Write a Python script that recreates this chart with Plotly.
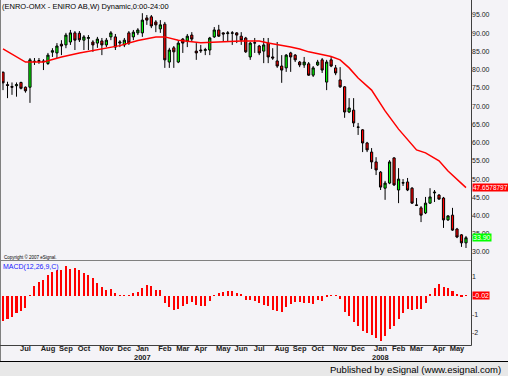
import plotly.graph_objects as go
import pandas as pd

# ---------------- data ----------------
start_week = "2006-05-29"
n_weeks = 104
dates = pd.date_range(start_week, periods=n_weeks, freq="7D")

opens = [79.3, 75.9, 75.4, 75.6, 76.5, 75.2, 75.2, 82.2, 82.5, 82.4,
         81.7, 84.8, 84.6, 87.0, 86.8, 87.6, 90.1, 90.0, 88.1, 88.6,
         87.6, 87.3, 87.9, 86.8, 89.0, 89.0, 87.3, 86.8, 90.1, 89.0,
         90.1, 90.1, 94.2, 94.5, 93.1, 91.2, 92.5, 82.1, 86.0, 82.1,
         88.4, 87.9, 89.5, 85.1, 85.4, 85.3, 85.4, 89.0, 90.9, 90.1,
         89.9, 90.0, 90.1, 89.2, 88.7, 83.5, 87.3, 86.5, 85.1, 87.3,
         83.5, 82.4, 81.0, 80.5, 84.6, 84.0, 82.1, 81.3, 81.6, 78.5,
         81.3, 82.7, 76.6, 82.7, 80.5, 77.2, 75.3, 68.4, 68.9, 64.3,
         63.5, 59.9, 57.4, 54.7, 51.9, 47.5, 48.9, 55.8, 47.0, 48.9,
         49.2, 47.5, 42.9, 42.1, 40.7, 43.4, 46.2, 45.6, 44.8, 38.8,
         40.1, 36.3, 34.7, 32.5]
highs = [79.5, 76.7, 76.5, 76.5, 76.7, 75.4, 83.2, 83.2, 83.2, 82.9,
         84.6, 85.9, 87.3, 88.1, 90.1, 90.9, 90.6, 90.6, 89.5, 89.5,
         88.1, 89.0, 88.7, 88.7, 90.6, 89.8, 88.1, 88.7, 90.6, 90.9,
         91.4, 95.5, 95.0, 95.0, 93.6, 93.6, 93.1, 86.0, 86.5, 88.1,
         88.7, 89.8, 90.3, 87.3, 86.8, 86.0, 89.0, 91.7, 92.3, 90.3,
         90.6, 90.6, 90.3, 90.3, 89.0, 87.6, 88.7, 86.8, 88.7, 88.7,
         85.9, 87.6, 84.0, 84.3, 84.9, 84.3, 82.4, 83.5, 82.1, 81.0,
         82.7, 83.2, 82.7, 83.5, 81.3, 80.7, 75.5, 72.2, 72.2, 65.4,
         63.7, 60.2, 58.5, 56.0, 52.2, 49.5, 55.2, 56.0, 53.0, 50.0,
         50.3, 47.8, 44.8, 42.6, 45.1, 47.5, 47.0, 45.9, 45.1, 40.1,
         42.1, 36.6, 34.9, 34.4]
lows = [74.4, 72.2, 73.1, 72.6, 74.6, 73.7, 70.9, 81.3, 81.6, 79.9,
        81.3, 83.5, 83.2, 84.0, 85.9, 86.8, 85.4, 87.6, 85.4, 85.4,
        84.9, 86.0, 84.0, 86.2, 88.1, 85.4, 86.2, 86.2, 86.8, 88.1,
        89.5, 89.0, 92.3, 91.4, 90.3, 90.1, 80.5, 80.5, 80.5, 81.8,
        84.6, 86.2, 87.6, 82.7, 84.6, 84.0, 84.0, 88.7, 89.0, 87.6,
        87.6, 86.8, 87.3, 86.8, 84.6, 82.7, 84.6, 84.0, 81.8, 81.8,
        82.7, 80.5, 76.4, 79.4, 79.4, 82.1, 80.7, 80.5, 78.3, 78.0,
        81.0, 79.1, 74.4, 80.7, 78.5, 75.0, 66.8, 68.1, 64.3, 62.1,
        57.4, 57.4, 52.8, 51.1, 47.0, 44.3, 48.6, 48.1, 43.4, 48.1,
        46.7, 43.2, 42.6, 38.2, 40.4, 43.2, 43.7, 44.3, 36.6, 38.5,
        35.8, 33.8, 31.4, 31.1]
closes = [76.4, 75.7, 75.2, 75.9, 74.9, 74.2, 82.7, 82.3, 82.3, 82.2,
          84.0, 85.2, 86.5, 86.5, 89.5, 90.1, 88.1, 88.2, 89.0, 88.8,
          86.8, 88.4, 86.8, 88.1, 90.1, 86.2, 87.6, 88.1, 87.3, 90.3,
          90.9, 93.6, 93.6, 92.0, 92.3, 92.3, 82.7, 85.4, 84.9, 87.3,
          87.3, 89.2, 88.4, 84.6, 85.2, 85.5, 88.7, 90.9, 89.2, 89.8,
          90.1, 90.1, 89.5, 88.1, 84.9, 87.3, 87.4, 84.6, 86.8, 83.5,
          83.2, 81.0, 79.9, 84.0, 83.5, 82.7, 81.3, 82.1, 78.5, 80.5,
          82.1, 79.9, 82.1, 81.0, 79.1, 75.3, 68.4, 69.5, 65.4, 64.2,
          59.9, 58.0, 54.7, 52.5, 47.8, 48.9, 54.7, 48.4, 50.0, 49.0,
          47.0, 43.4, 42.8, 40.1, 43.4, 45.1, 46.4, 44.5, 38.8, 39.9,
          36.0, 34.1, 32.5, 33.90]

# moving average line, read at selected weeks
sma_weeks = [0, 5, 9, 13, 17, 22, 26, 30, 34, 36, 39, 44, 48, 53, 57, 59,
             64, 66, 68, 71, 73, 75, 77, 79, 82, 85, 88, 92, 94, 97, 99, 103]
sma_values = [85.7, 82.1, 82.1, 83.5, 84.6, 85.7, 86.6, 88.0, 89.0, 89.0,
              88.1, 87.4, 87.7, 87.9, 87.9, 87.3, 86.2, 85.7, 84.9, 84.0,
              83.6, 82.7, 80.5, 77.7, 74.4, 68.7, 63.7, 58.0, 57.2, 55.0,
              52.2, 47.6578797]

macd_hist = [-1.35, -1.26, -1.17, -0.95, -0.81, -0.68, -0.02, 0.49, 0.72, 0.86,
             1.08, 1.26, 1.39, 1.39, 1.57, 1.42, 1.50, 1.35, 1.23, 1.10,
             0.94, 0.68, 0.45, 0.32, 0.34, 0.13, 0.01, 0.02, -0.01, 0.13,
             0.18, 0.41, 0.59, 0.49, 0.31, 0.27, -0.41, -0.63, -0.77, -0.72,
             -0.54, -0.45, -0.36, -0.49, -0.59, -0.58, -0.32, 0.02, 0.13, 0.18,
             0.22, 0.22, 0.15, 0.05, -0.23, -0.23, -0.27, -0.41, -0.50, -0.59,
             -0.76, -0.81, -0.86, -0.63, -0.45, -0.36, -0.36, -0.41, -0.41, -0.45,
             -0.23, -0.31, -0.09, -0.02, -0.02, -0.18, -0.90, -1.08, -1.44, -1.62,
             -1.89, -2.04, -2.13, -2.31, -2.43, -2.16, -1.80, -1.62, -1.26, -0.95,
             -0.72, -0.77, -0.72, -0.72, -0.41, 0.09, 0.41, 0.63, 0.45, 0.41,
             0.23, 0.09, -0.05, -0.02]

month_tick_dates = ["2006-07-03", "2006-08-07", "2006-09-04", "2006-10-02", "2006-11-06",
                    "2006-12-04", "2007-01-01", "2007-02-05", "2007-03-05", "2007-04-02",
                    "2007-05-07", "2007-06-04", "2007-07-02", "2007-08-06", "2007-09-03",
                    "2007-10-01", "2007-11-05", "2007-12-03", "2008-01-07", "2008-02-04",
                    "2008-03-03", "2008-04-07", "2008-05-05"]
month_tick_labels = ["Jul", "Aug", "Sep", "Oct", "Nov", "Dec", "Jan", "Feb", "Mar", "Apr",
                     "May", "Jun", "Jul", "Aug", "Sep", "Oct", "Nov", "Dec", "Jan", "Feb",
                     "Mar", "Apr", "May"]
year_tick_dates = ["2007-01-01", "2008-01-07"]
year_tick_labels = ["2007", "2008"]

price_ticks = [30, 35, 40, 45, 50, 55, 60, 65, 70, 75, 80, 85, 90, 95]
macd_ticks = [1, -1, -2]

# ---------------- layout helpers ----------------
W, H = 508, 376
L, R, T, B = 2, 471, 2, 345


def px(xp):
    return (xp - L) / (R - L)


def py(yp):
    return (B - yp) / (B - T)


BG = "#F4F3F7"
FONT = "Liberation Sans"
week_ms = 7 * 86400000
px_per_week = 4.495
t0 = dates[0]
x_start = t0 + pd.Timedelta(days=7 * (L - 3) / px_per_week)
x_end = t0 + pd.Timedelta(days=7 * (R - 3) / px_per_week)

fig = go.Figure()
fig.add_trace(go.Candlestick(
    x=dates, open=opens, high=highs, low=lows, close=closes,
    increasing=dict(fillcolor="#00FF00", line=dict(color="#000000", width=1)),
    decreasing=dict(fillcolor="#FF0000", line=dict(color="#000000", width=1)),
    whiskerwidth=0, xaxis="x", yaxis="y", showlegend=False, hoverinfo="skip"))
fig.add_trace(go.Scatter(
    x=[dates[i] for i in sma_weeks], y=sma_values, mode="lines",
    line=dict(color="#FF0000", width=1.5), xaxis="x", yaxis="y",
    showlegend=False, hoverinfo="skip"))
fig.add_trace(go.Bar(
    x=dates, y=macd_hist, width=week_ms * 0.45,
    marker=dict(color="#FF0000", line=dict(width=0)),
    xaxis="x", yaxis="y2", showlegend=False, hoverinfo="skip"))

fig.update_layout(
    width=W, height=H,
    margin=dict(l=L, r=W - R, t=T, b=H - B, pad=0, autoexpand=False),
    paper_bgcolor=BG, plot_bgcolor=BG,
    font=dict(family=FONT, size=7, color="#000000"),
    bargap=0,
    xaxis=dict(type="date", range=[x_start, x_end], anchor="free", position=py(342.5),
               domain=[0, 1],
               tickvals=month_tick_dates, ticktext=month_tick_labels,
               tickfont=dict(family=FONT, size=7.5, color="#222222", weight="bold"),
               showgrid=False, zeroline=False, showline=False, ticks="",
               rangeslider=dict(visible=False), automargin=False),
    yaxis=dict(domain=[py(260), 1], range=[27.8, 98.57], side="right", anchor="x",
               tickvals=price_ticks, ticktext=[f"{v:.2f}" for v in price_ticks],
               tickfont=dict(family=FONT, size=7, color="#222222"),
               showgrid=False, zeroline=False, showline=False, ticks="", automargin=False),
    yaxis2=dict(domain=[0, py(261)], range=[-2.66, 1.855], side="right", anchor="x",
                tickvals=macd_ticks, ticktext=[str(v) for v in macd_ticks],
                tickfont=dict(family=FONT, size=7, color="#222222"),
                showgrid=False, zeroline=False, showline=False, ticks="", automargin=False),
)

shapes = []
# footer band
shapes.append(dict(type="rect", xref="paper", yref="paper", x0=px(0), x1=px(W),
                   y0=py(362), y1=py(H), fillcolor="#E8E8E8", line=dict(width=0)))
shapes.append(dict(type="line", xref="paper", yref="paper", x0=px(0), x1=px(W),
                   y0=py(361.5), y1=py(361.5), line=dict(color="#000000", width=1)))
# frame lines
shapes.append(dict(type="line", xref="paper", yref="paper", x0=px(0.5), x1=px(0.5),
                   y0=py(0), y1=py(361), line=dict(color="#808080", width=1)))
shapes.append(dict(type="line", xref="paper", yref="paper", x0=px(0), x1=px(471.5),
                   y0=py(260.5), y1=py(260.5), line=dict(color="#808080", width=1)))
shapes.append(dict(type="line", xref="paper", yref="paper", x0=px(0), x1=px(471.5),
                   y0=py(345.5), y1=py(345.5), line=dict(color="#404040", width=1)))
shapes.append(dict(type="line", xref="paper", yref="paper", x0=px(471.5), x1=px(471.5),
                   y0=py(0), y1=py(345.5), line=dict(color="#404040", width=1)))
fig.update_layout(shapes=shapes)

ann = []
ann.append(dict(text="(ENRO-OMX - ENIRO AB,W) Dynamic,0:00-24:00", xref="paper", yref="paper",
                x=px(0), y=py(0), xanchor="left", yanchor="top", showarrow=False,
                font=dict(family=FONT, size=7.5, color="#000000")))
ann.append(dict(text="Copyright © 2007 eSignal.", xref="paper", yref="paper",
                x=px(2), y=py(256.5), xanchor="left", yanchor="middle", showarrow=False,
                font=dict(family=FONT, size=4.5, color="#000000")))
ann.append(dict(text="MACD(12,26,9,C)", xref="paper", yref="paper",
                x=px(1), y=py(267), xanchor="left", yanchor="middle", showarrow=False,
                font=dict(family=FONT, size=7, color="#2020FF")))
for d, lab in zip(year_tick_dates, year_tick_labels):
    ann.append(dict(text=lab, xref="x", yref="paper", x=d, y=py(357.5),
                    xanchor="center", yanchor="middle", showarrow=False,
                    font=dict(family=FONT, size=7.5, color="#222222", weight="bold")))
# current value boxes
ann.append(dict(text=f"{sma_values[-1]:.7f}", xref="paper", yref="y", x=px(471.5),
                y=sma_values[-1], xanchor="left", yanchor="middle", showarrow=False,
                bgcolor="#FF0000", borderpad=0,
                font=dict(family=FONT, size=6.5, color="#FFFFFF")))
ann.append(dict(text=f"{closes[-1]:.2f}", xref="paper", yref="y", x=px(471.5),
                y=closes[-1], xanchor="left", yanchor="middle", showarrow=False,
                bgcolor="#00FF00", borderpad=0,
                font=dict(family=FONT, size=7, color="#FFFFFF")))
ann.append(dict(text=f"{macd_hist[-1]:.2f}", xref="paper", yref="y2", x=px(471.5),
                y=macd_hist[-1], xanchor="left", yanchor="middle", showarrow=False,
                bgcolor="#FF0000", borderpad=0,
                font=dict(family=FONT, size=7, color="#FFFFFF")))
ann.append(dict(text="Published by eSignal (www.esignal.com)", xref="paper", yref="paper",
                x=px(503), y=py(369), xanchor="right", yanchor="middle", showarrow=False,
                font=dict(family=FONT, size=9.5, color="#000000")))
fig.update_layout(annotations=ann)

fig.write_html("out.html", config={"displayModeBar": False},
               post_script="document.body.style.margin='0px';document.body.style.padding='0px';")
